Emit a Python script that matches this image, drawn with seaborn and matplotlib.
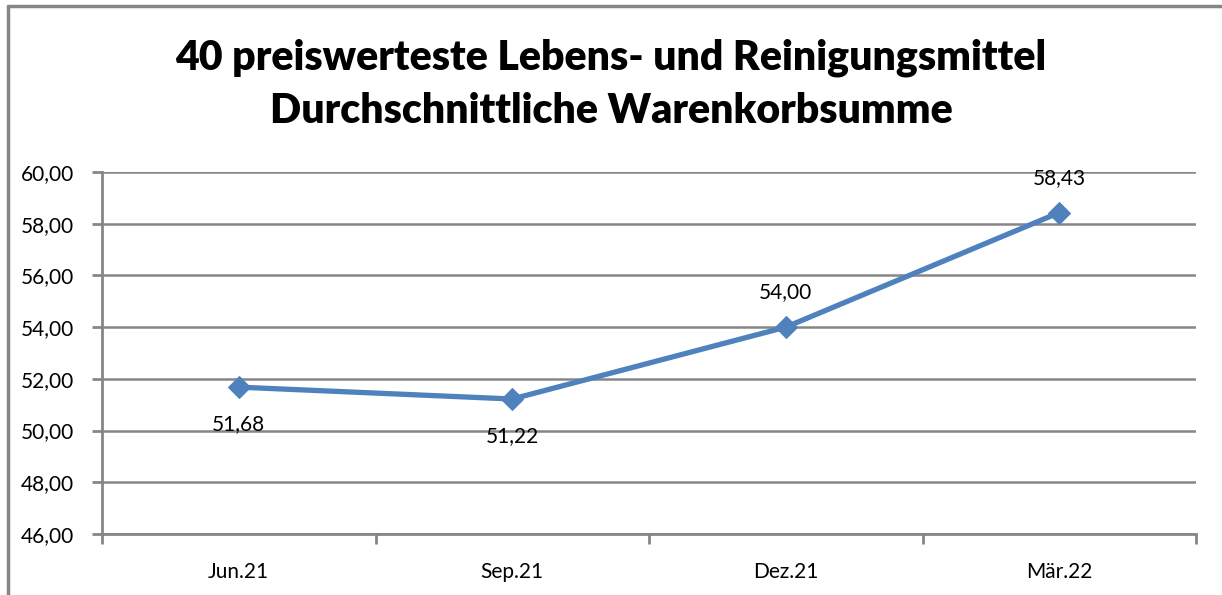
import matplotlib
matplotlib.use("Agg")
import matplotlib.pyplot as plt
import seaborn as sns
import pandas as pd
from matplotlib.lines import Line2D
from matplotlib.ticker import FixedLocator, FuncFormatter

categories = ["Jun.21", "Sep.21", "Dez.21", "Mär.22"]
values = [51.68, 51.22, 54.00, 58.43]
label_pos = ["below", "below", "above", "above"]
title_lines = ["40 preiswerteste Lebens- und Reinigungsmittel", "Durchschnittliche Warenkorbsumme"]
y_ticks = [46, 48, 50, 52, 54, 56, 58, 60]

sns.set_theme(style="white")
plt.rcParams['font.family'] = ['Lato', 'DejaVu Sans']

df = pd.DataFrame({"cat": categories, "val": values})

fig = plt.figure(figsize=(12.22, 5.95), dpi=100)
ax = fig.add_axes([102/1222, 1-534/595, (1196-102)/1222, (534-172)/595])

grid_c = "#868686"
blue = "#4F81BD"

sns.lineplot(data=df, x="cat", y="val", ax=ax, color=blue, linewidth=3.8,
             marker="D", markersize=11, markeredgecolor=blue, markerfacecolor=blue,
             sort=False, zorder=5)

ax.set_xlim(-0.5, len(categories) - 0.5)
ax.set_ylim(min(y_ticks), max(y_ticks))
ax.set_yticks(y_ticks)
ax.yaxis.set_major_formatter(FuncFormatter(lambda v, p: f"{v:.2f}".replace(".", ",")))
ax.set_xticks(range(len(categories)))
ax.set_xticklabels(categories)
ax.xaxis.set_minor_locator(FixedLocator([i - 0.5 for i in range(len(categories) + 1)]))
ax.tick_params(axis="x", which="major", length=0, pad=20, labelsize=15, colors="black")
ax.tick_params(axis="x", which="minor", length=7, width=2, color=grid_c, direction="out", bottom=True)
ax.tick_params(axis="y", which="major", length=7, width=2, color=grid_c, direction="out",
               left=True, pad=13, labelsize=15, labelcolor="black")
ax.set_xlabel("")
ax.set_ylabel("")

ax.grid(axis="y", color=grid_c, linewidth=1.8)
ax.set_axisbelow(True)
for s in ["top", "right"]:
    ax.spines[s].set_visible(False)
for s in ["left", "bottom"]:
    ax.spines[s].set_color(grid_c)
    ax.spines[s].set_linewidth(2)

for i, (v, pos) in enumerate(zip(values, label_pos)):
    off = -37 if pos == "below" else 35
    ax.annotate(f"{v:.2f}".replace(".", ","), (i, v), xytext=(0, off * 0.72),
                textcoords="offset points", ha="center", va="center", fontsize=15, color="black")

fig.text(0.5, 1-58/595, title_lines[0], ha="center", va="center", fontsize=29.5, fontweight="heavy", color="black")
fig.text(0.5, 1-111/595, title_lines[1], ha="center", va="center", fontsize=29.5, fontweight="heavy", color="black")

# outer frame (top and left edges visible)
fig.add_artist(Line2D([8/1222, 1], [1-6/595, 1-6/595], transform=fig.transFigure, color=grid_c, linewidth=2.5))
fig.add_artist(Line2D([8/1222, 8/1222], [0, 1-6/595], transform=fig.transFigure, color=grid_c, linewidth=2.5))

fig.savefig("out.png", dpi=100)
